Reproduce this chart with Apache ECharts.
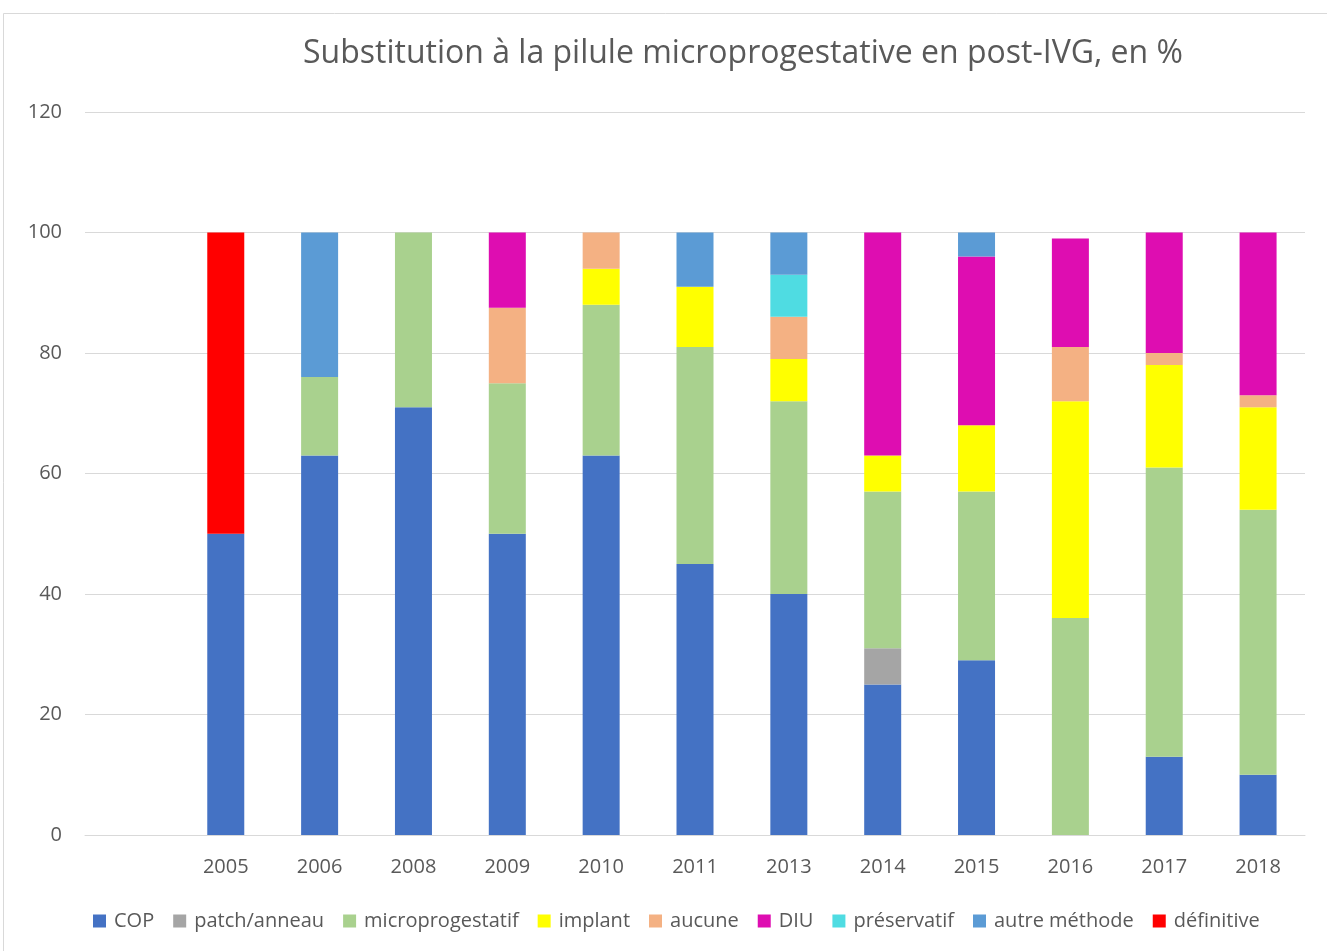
<!DOCTYPE html>
<html>
<head>
<meta charset="utf-8">
<script src="https://cdn.jsdelivr.net/npm/echarts@6/dist/echarts.min.js"></script>
<style>
html, body { margin: 0; padding: 0; background: #fff; }
#main { width: 1327px; height: 951px; }
</style>
</head>
<body>
<div id="main"></div>
<script>
var myChart = echarts.init(document.getElementById('main'));

var years = ['', '2005', '2006', '2008', '2009', '2010', '2011', '2013', '2014', '2015', '2016', '2017', '2018'];

var cop = [null, 50, 63, 71, 50, 63, 45, 40, 25, 29, null, 13, 10];
var patch = [null, null, null, null, null, null, null, null, 6, null, null, null, null];
var micro = [null, null, 13, 29, 25, 25, 36, 32, 26, 28, 36, 48, 44];
var implant = [null, null, null, null, null, 6, 10, 7, 6, 11, 36, 17, 17];
var aucune = [null, null, null, null, 12.5, 6, null, 7, null, null, 9, 2, 2];
var diu = [null, null, null, null, 12.5, null, null, null, 37, 28, 18, 20, 27];
var preservatif = [null, null, null, null, null, null, null, 7, null, null, null, null, null];
var autre = [null, null, 24, null, null, null, 9, 7, null, 4, null, null, null];
var definitive = [null, 50, null, null, null, null, null, null, null, null, null, null, null];

var yTicks = [0, 20, 40, 60, 80, 100, 120];

var seriesDefs = [
    ['COP', cop, '#4472C4'],
    ['patch/anneau', patch, '#A5A5A5'],
    ['microprogestatif', micro, '#A9D18E'],
    ['implant', implant, '#FFFF00'],
    ['aucune', aucune, '#F4B183'],
    ['DIU', diu, '#DE0DB1'],
    ['préservatif', preservatif, '#4FDCE2'],
    ['autre méthode', autre, '#5B9BD5'],
    ['définitive', definitive, '#FF0000']
];

var font = "'Open Sans', sans-serif";
var series = [];
seriesDefs.forEach(function (d) {
    series.push({
        name: d[0],
        type: 'bar',
        stack: 'total',
        barWidth: 37,
        data: d[1],
        itemStyle: { color: d[2] }
    });
});

option = {
    backgroundColor: '#fff',
    animation: false,
    color: seriesDefs.map(function (d) { return d[2]; }),
    title: {
        text: 'Substitution à la pilule microprogestative en post-IVG, en %',
        left: 738,
        textAlign: 'center',
        top: 33,
        textStyle: {
            color: '#595959',
            fontFamily: font,
            fontSize: 32,
            fontWeight: 'normal'
        }
    },
    legend: {
        bottom: 15,
        left: 88,
        itemWidth: 13,
        itemHeight: 13,
        itemGap: 19,
        icon: 'rect',
        data: seriesDefs.map(function (d) { return d[0]; }),
        textStyle: {
            color: '#595959',
            fontFamily: font,
            fontSize: 20,
            padding: [0, 0, 0, 3]
        }
    },
    graphic: [{
        type: 'rect',
        shape: { x: 3.5, y: 13.5, width: 1340, height: 960 },
        style: { fill: 'none', stroke: '#d9d9d9', lineWidth: 1 },
        silent: true
    }],
    grid: {
        left: 85,
        right: 22,
        top: 112,
        bottom: 116,
        containLabel: false
    },
    xAxis: {
        type: 'category',
        data: years,
        axisLine: { lineStyle: { color: '#d9d9d9' } },
        axisTick: { show: false },
        axisLabel: {
            color: '#595959',
            fontFamily: font,
            fontSize: 20,
            margin: 22
        }
    },
    yAxis: {
        type: 'value',
        min: yTicks[0],
        max: yTicks[yTicks.length - 1],
        interval: 20,
        axisLine: { show: false },
        axisTick: { show: false },
        splitLine: { lineStyle: { color: '#d9d9d9', width: 1 } },
        axisLabel: {
            color: '#595959',
            fontFamily: font,
            fontSize: 20,
            margin: 23
        }
    },
    series: series
};

myChart.setOption(option);
</script>
</body>
</html>
